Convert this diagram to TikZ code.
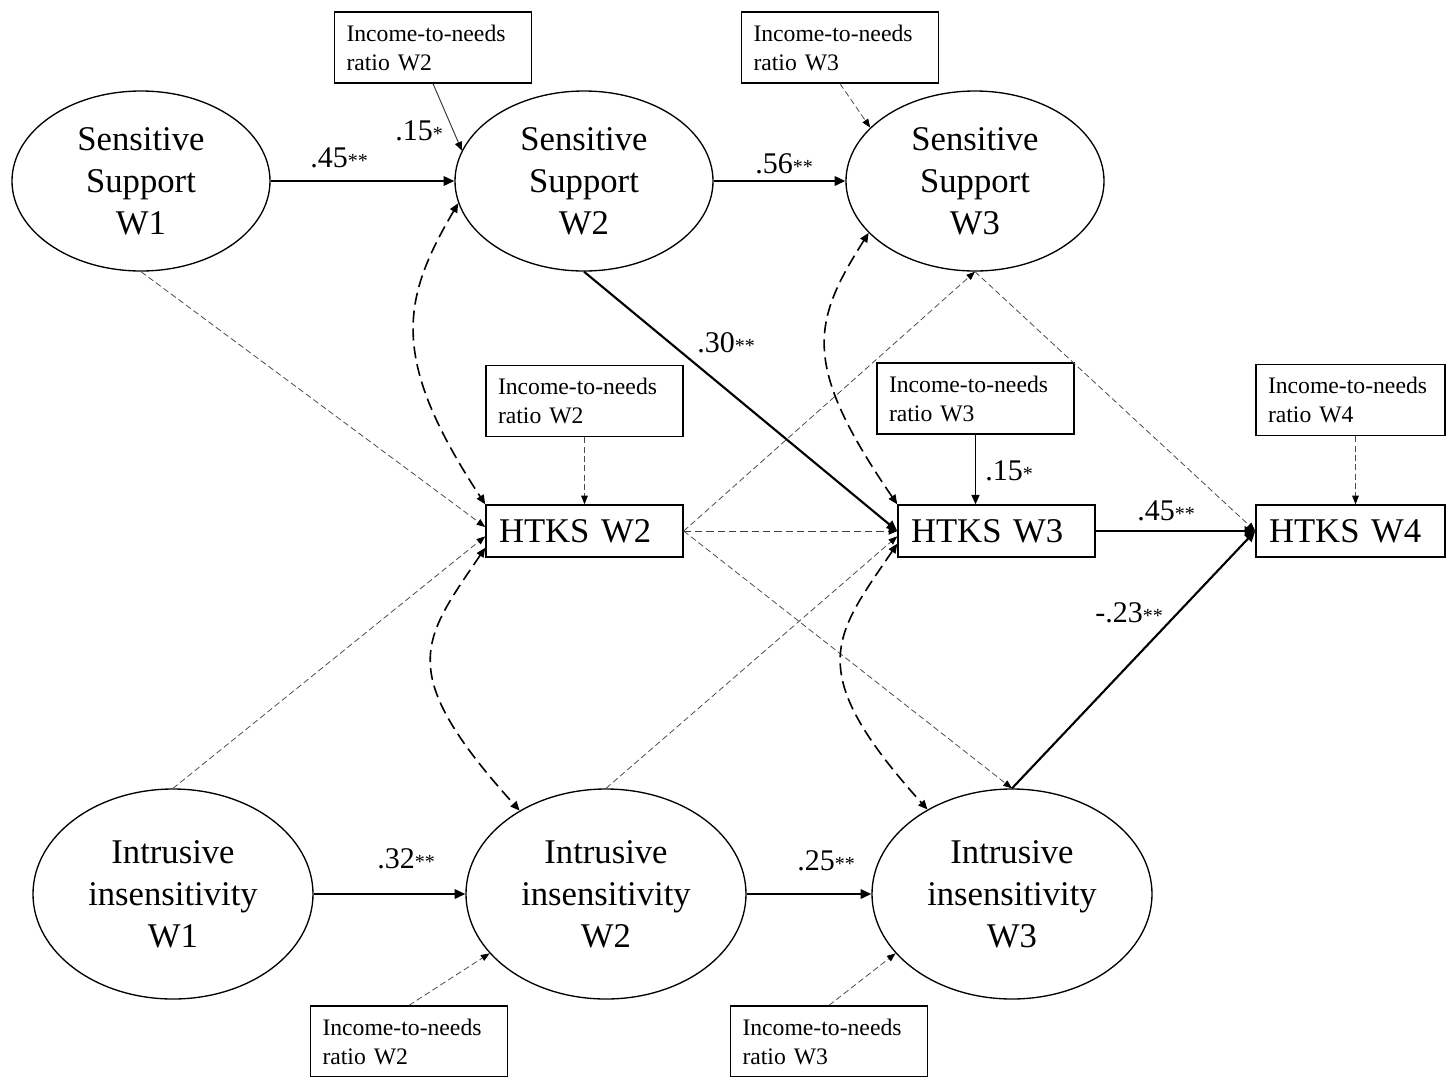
\documentclass[tikz,border=0pt]{standalone}
\usepackage{fontspec}
\setmainfont{Liberation Serif}
\usetikzlibrary{arrows.meta,shapes.geometric}
\newcommand{\bigtxt}{\fontsize{26}{31.5}\selectfont}
\newcommand{\inctxt}{\fontsize{17.75}{21.75}\selectfont}
\newcommand{\pathlab}[2]{{\fontsize{22.5}{24}\selectfont #1}{\fontsize{15}{16}\selectfont #2}}
\begin{document}
\begin{tikzpicture}[x=0.75pt,y=-0.75pt,
  latent/.style={ellipse, draw, line width=1pt, inner sep=0pt, align=center, font=\bigtxt},
  sslat/.style={latent, minimum width=193.5pt, minimum height=135pt},
  iilat/.style={latent, minimum width=210pt, minimum height=157.5pt},
  htksbox/.style={rectangle, draw, line width=1.1pt, minimum height=39pt, inner xsep=9.75pt, inner ysep=0pt, text width=128.25pt, align=left, font=\bigtxt},
  incbox/.style={rectangle, draw, line width=1pt, minimum height=53.25pt, inner xsep=9pt, inner ysep=0pt, text width=129.75pt, align=left, font=\inctxt},
  lbl/.style={inner sep=0pt, anchor=base west},
  pth/.style={line width=1.6pt, -{Triangle[length=8pt,width=7pt]}},
  pthmed/.style={line width=1.1pt, -{Triangle[length=7pt,width=6pt]}},
  thinsolid/.style={line width=0.7pt, black!80, -{Triangle[length=6.5pt,width=5.5pt,black]}},
  thindash/.style={line width=0.6pt, black!70, dash pattern=on 4.5pt off 2.5pt, -{Triangle[length=6.5pt,width=5pt,black]}},
  meddash/.style={line width=0.7pt, black!75, dash pattern=on 5.5pt off 3pt, -{Triangle[length=6.5pt,width=5.5pt,black]}},
  covar/.style={line width=1.2pt, dash pattern=on 9pt off 4.5pt, {Triangle[length=7pt,width=6pt]}-{Triangle[length=7pt,width=6pt]}}
]
\useasboundingbox (0,0) rectangle (1446,1076);

% latent variables
\node[sslat] (ss1) at (141,181) {Sensitive\\Support\\W1};
\node[sslat] (ss2) at (584,181) {Sensitive\\Support\\W2};
\node[sslat] (ss3) at (975,181) {Sensitive\\Support\\W3};
\node[iilat] (ii1) at (173,894) {Intrusive\\insensitivity\\W1};
\node[iilat] (ii2) at (606,894) {Intrusive\\insensitivity\\W2};
\node[iilat] (ii3) at (1012,894) {Intrusive\\insensitivity\\W3};

% HTKS
\node[htksbox] (htks2) at (584.5,531) {HTKS W2};
\node[htksbox] (htks3) at (996.5,531) {HTKS W3};
\node[htksbox, text width=122.25pt] (htks4) at (1350.5,531) {HTKS W4};

% income-to-needs
\node[incbox] (inc2t) at (433,47.5) {Income-to-needs\\ratio W2};
\node[incbox] (inc3t) at (840,47.5) {Income-to-needs\\ratio W3};
\node[incbox] (inc2m) at (584.5,401) {Income-to-needs\\ratio W2};
\node[incbox] (inc3m) at (975.5,398.5) {Income-to-needs\\ratio W3};
\node[incbox, text width=123.75pt] (inc4) at (1350.5,400) {Income-to-needs\\ratio W4};
\node[incbox] (inc2b) at (409,1041.5) {Income-to-needs\\ratio W2};
\node[incbox] (inc3b) at (829,1041.5) {Income-to-needs\\ratio W3};

% thin dashed (non-significant) paths
\draw[thindash] (inc3t.south) -- (ss3.153);
\draw[thindash] (inc2m) -- (htks2);
\draw[thindash] ([xshift=3.75pt]inc4.south) -- ([xshift=3.75pt]htks4.north);
\draw[thindash] (inc2b.north) -- (ii2.207);
\draw[thindash] (inc3b.north) -- (ii3.207);
\draw[thindash] (ss1.south) -- ([yshift=3pt]htks2.west);
\draw[thindash] (ii1.north) -- ([yshift=-4pt]htks2.west);
\draw[thindash] (htks2.east) -- (ss3.south);
\draw[meddash] (htks2.east) -- (htks3.west);
\draw[thindash] (htks2.east) -- (ii3.north);
\draw[thindash] (ss3.south) -- (htks4.west);
\draw[thindash] (ii2.north) -- ([yshift=-4pt]htks3.west);

% covariances
\draw[covar] (ss2.190) .. controls +(-57,97) and +(-96,-146) .. (htks2.north west);
\draw[covar] ([yshift=7.5pt]htks2.south west) .. controls +(-63,93) and +(-126,-140) .. (ii2.136);
\draw[covar] (ss3.206) .. controls +(-57,90) and +(-96,-140) .. (htks3.north west);
\draw[covar] ([yshift=10.5pt]htks3.south west) .. controls +(-63,93) and +(-126,-140) .. (ii3.135);

% significant paths
\draw[thinsolid] (inc2t.south) -- (ss2.166);
\draw[pthmed] (inc3m.south) -- (inc3m.south |- htks3.north);
\draw[pth] (ss1) -- (ss2);
\draw[pth] (ss2) -- (ss3);
\draw[pth] (ss2.south) -- (htks3.west);
\draw[pth] (htks3) -- (htks4);
\draw[pth] (ii3.north) -- (htks4.west);
\draw[pth] (ii1) -- (ii2);
\draw[pth] (ii2) -- (ii3);

% labels
\node[lbl] (l1) at (310,167) {\pathlab{.45}{**}};
\node[lbl] (l2) at (395,140) {\pathlab{.15}{*}};
\node[lbl] (l3) at (755,173) {\pathlab{.56}{**}};
\node[lbl] (l4) at (697,352) {\pathlab{.30}{**}};
\node[lbl] (l5) at (985,480) {\pathlab{.15}{*}};
\node[lbl] (l6) at (1137,520) {\pathlab{.45}{**}};
\node[lbl] (l7) at (1095,622) {\pathlab{-.23}{**}};
\node[lbl] (l8) at (377,868) {\pathlab{.32}{**}};
\node[lbl] (l9) at (797,870) {\pathlab{.25}{**}};
\end{tikzpicture}
\end{document}
